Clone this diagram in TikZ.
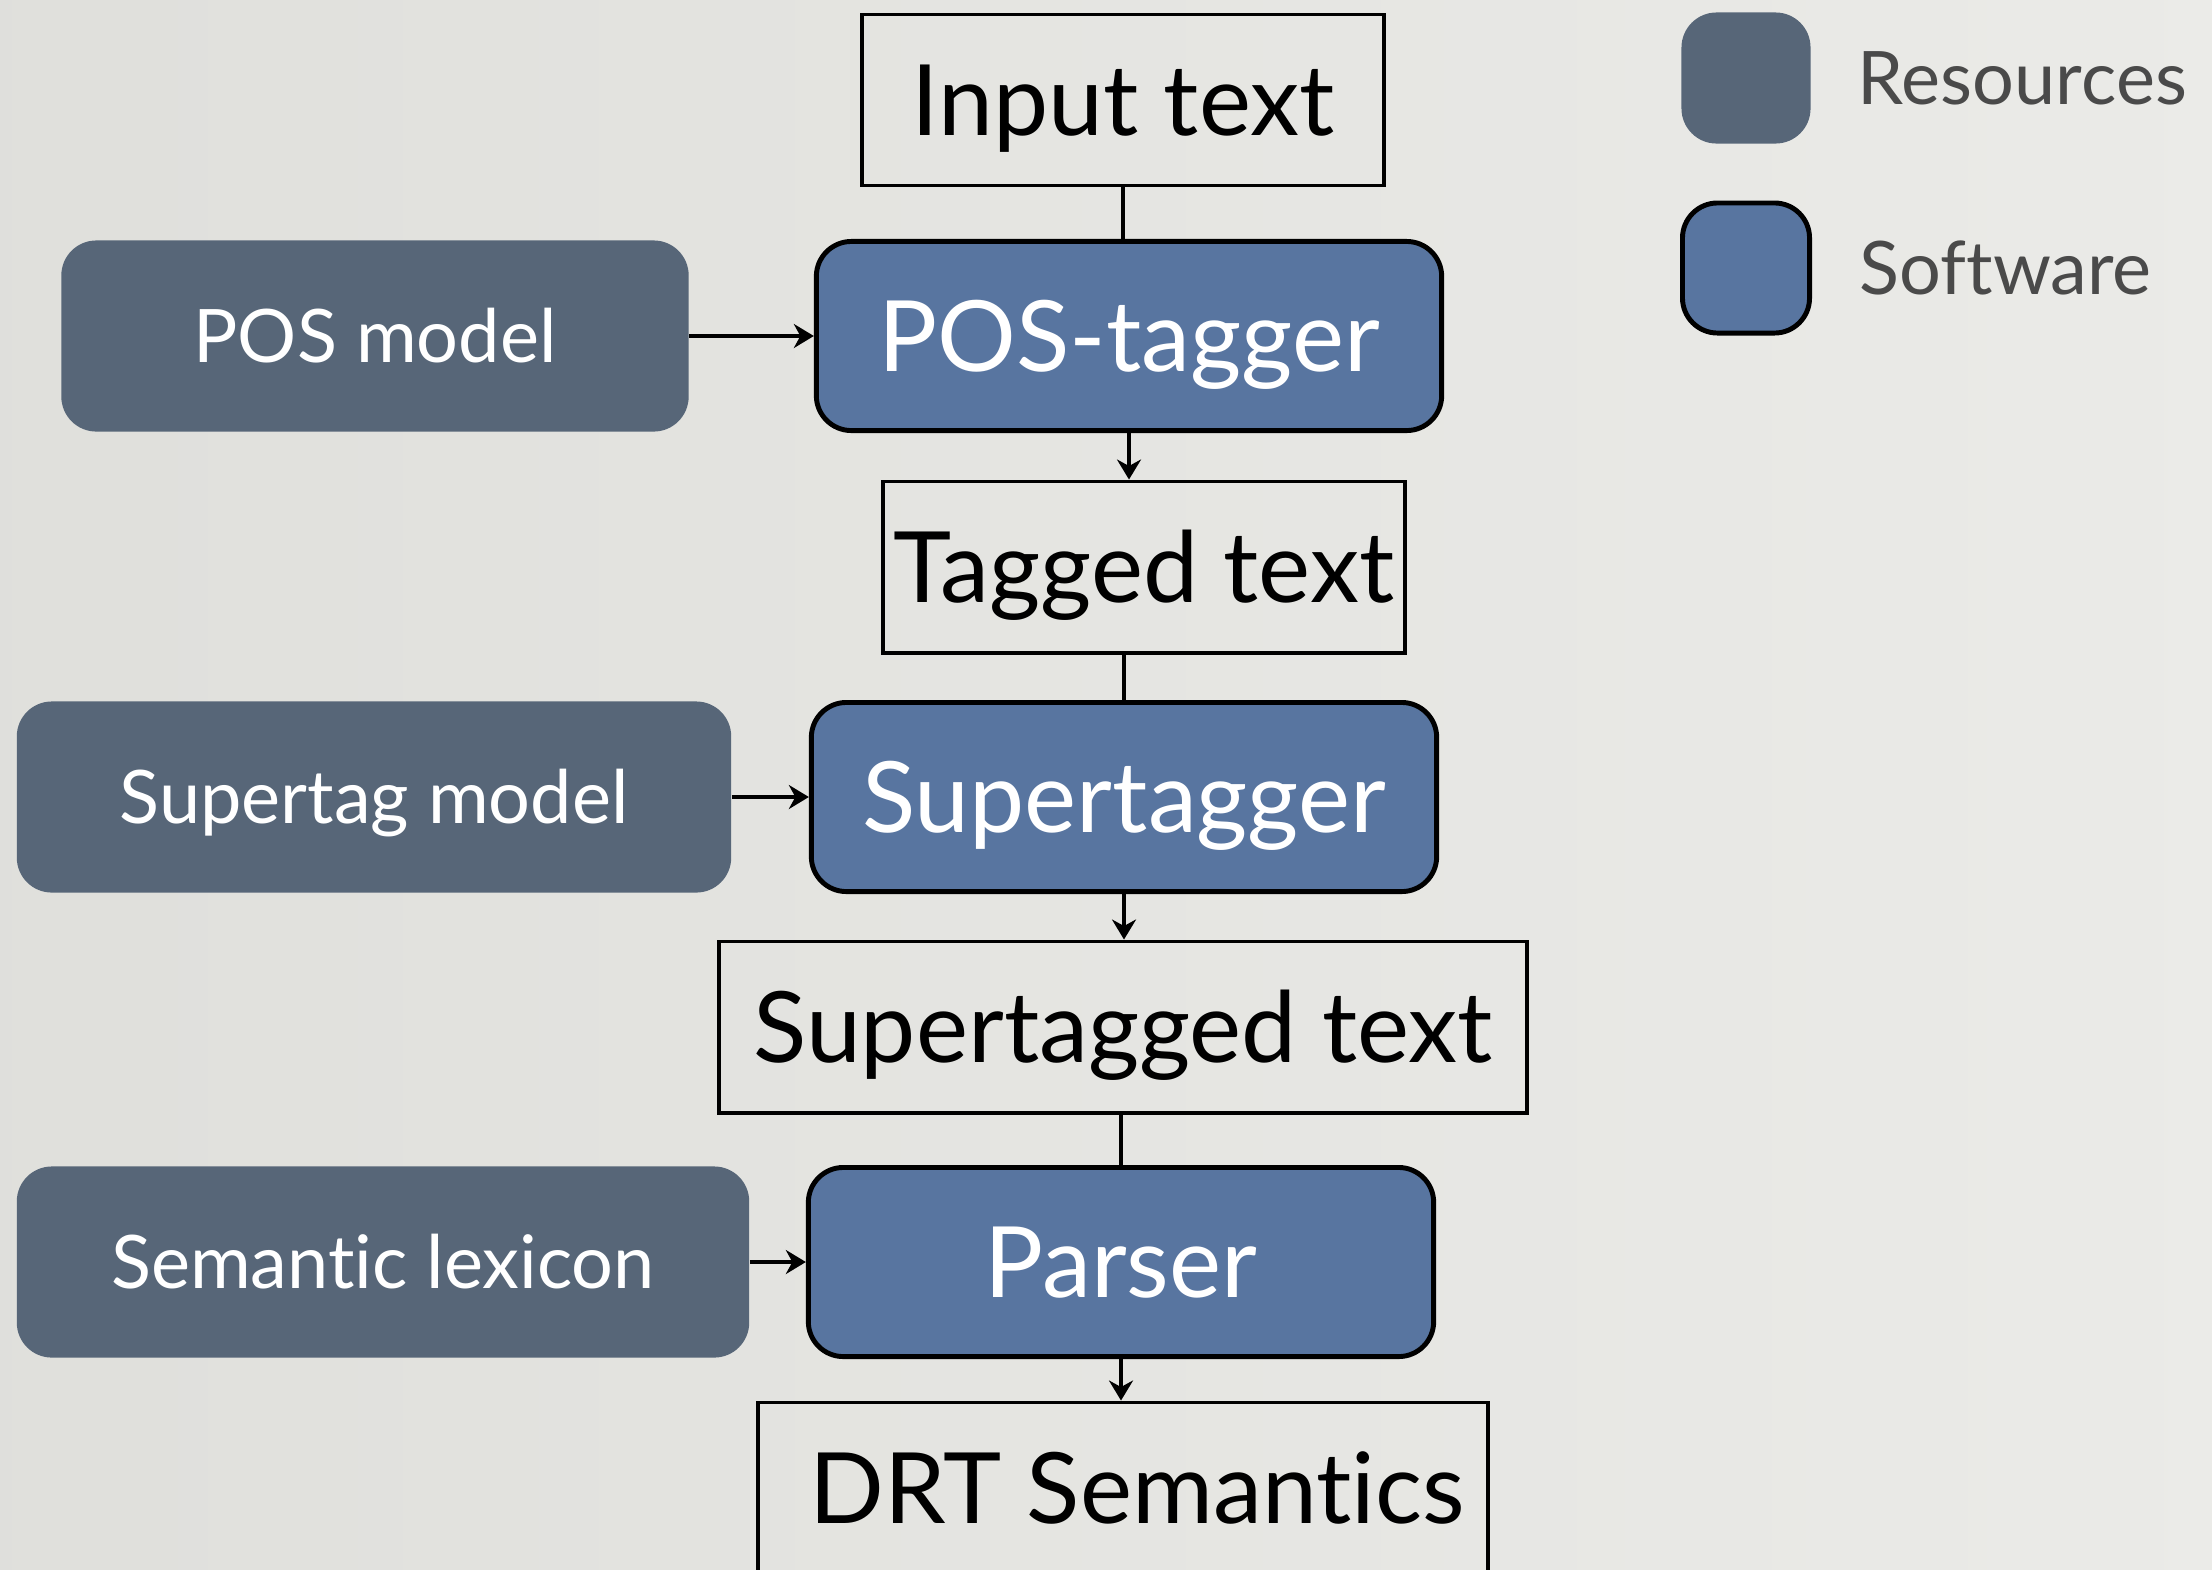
\documentclass[tikz,border=0pt]{standalone}
\usepackage{fontspec}
\setmainfont{Lato}[Ligatures=NoCommon]
\usetikzlibrary{positioning,arrows.meta}
\definecolor{bgcol}{HTML}{E4E4E0}
\definecolor{resfill}{HTML}{576678}
\definecolor{softfill}{HTML}{5875A0}
\definecolor{legtext}{HTML}{4A4A4A}
\begin{document}
\begin{tikzpicture}[x=0.01cm,y=-0.01cm,
    textbox/.style={draw,line width=1.1pt,minimum width=5.22cm,minimum height=1.71cm,inner sep=0pt,text height=20pt,text depth=0pt,font=\fontsize{28}{34}\selectfont},
    softbox/.style={draw,line width=1.4pt,rounded corners=0.35cm,fill=softfill,text=white,minimum width=6.25cm,minimum height=1.89cm,inner sep=0pt,text height=20pt,text depth=0pt,font=\fontsize{28}{34}\selectfont},
    resbox/.style={rounded corners=0.35cm,fill=resfill,text=white,minimum height=1.91cm,inner sep=0pt,text height=15pt,text depth=0pt,font=\fontsize{21}{25}\selectfont},
    legend/.style={inner sep=0pt,text=legtext,text height=15pt,text depth=0pt,font=\fontsize{21}{25}\selectfont},
    flow/.style={line width=0.95pt,-{Stealth[length=0.2cm,width=0.24cm]}}]
    \useasboundingbox (0,0) rectangle (2212,1569);
    \shade[left color=bgcol!98!black,right color=bgcol!75!white] (0,0) rectangle (2212,1569);
    % pipeline
    \node[textbox] (input) at (1123,100) {Input text};
    \node[softbox] (postagger) at (1129,336) {POS-tagger};
    \node[textbox] (tagged) at (1144,567) {Tagged text};
    \node[softbox] (supertagger) at (1124,797) {Supertagger};
    \node[textbox,minimum width=8.07cm] (suptagged) at (1123,1027) {Supertagged text};
    \node[softbox] (parser) at (1121,1262) {Parser};
    \node[textbox,minimum width=7.30cm] (drt) at (1123,1488) {\hspace{0.28cm}DRT Semantics};
    % resources
    \node[resbox,minimum width=6.27cm] (posmodel) at (375,336) {POS model};
    \node[resbox,minimum width=7.14cm] (supmodel) at (374,797) {Supertag model};
    \node[resbox,minimum width=7.32cm] (lexicon) at (383,1262) {Semantic lexicon};
    % legend
    \node[resbox,minimum width=1.29cm,minimum height=1.31cm] (legres) at (1746,78) {};
    \node[softbox,minimum width=1.27cm,minimum height=1.30cm] (legsoft) at (1746,268) {};
    \node[legend,right=0.46cm of legres] (legrestext) {Resources};
    \node[legend,right=0.47cm of legsoft] (legsofttext) {Software};
    % connectors
    \draw[line width=0.95pt] (input.south) -- (input.south |- postagger.north);
    \draw[flow] (postagger.south) -- (postagger.south |- tagged.north);
    \draw[line width=0.95pt] (supertagger.north |- tagged.south) -- (supertagger.north);
    \draw[flow] (supertagger.south) -- (supertagger.south |- suptagged.north);
    \draw[line width=0.95pt] (parser.north |- suptagged.south) -- (parser.north);
    \draw[flow] (parser.south) -- (parser.south |- drt.north);
    \draw[flow] (posmodel.east) -- (postagger.west);
    \draw[flow] (supmodel.east) -- (supertagger.west);
    \draw[flow] (lexicon.east) -- (parser.west);
\end{tikzpicture}
\end{document}
